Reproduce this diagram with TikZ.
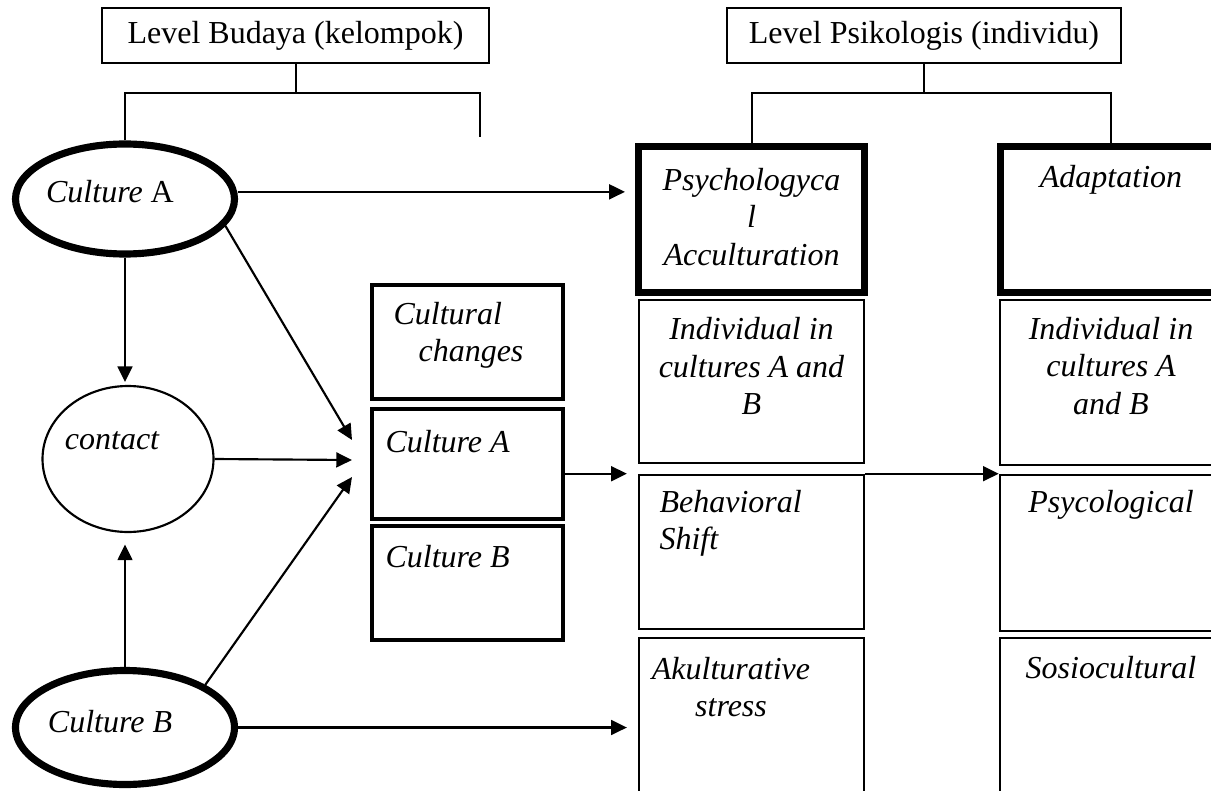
\documentclass[tikz,border=0pt]{standalone}
\usepackage{fontspec}
\setmainfont{Liberation Serif}
\usetikzlibrary{arrows.meta,shapes.geometric}

\tikzset{
  ln/.style={line width=0.7pt},
  arr/.style={line width=0.75pt, -{Triangle[length=5.5pt,width=5.2pt]}},
  boxsize/.style 2 args={minimum width=#1*0.35pt, minimum height=#2*0.35pt, inner sep=0pt},
  plainbox/.style={draw, line width=0.9pt},
  midbox/.style={draw, line width=1.4pt},
  heavybox/.style={draw, line width=2.5pt},
  heavyoval/.style={draw, ellipse, line width=2.5pt},
  thinoval/.style={draw, ellipse, line width=0.75pt},
  lbl/.style={font=\fontsize{11.2}{13}\selectfont\itshape, align=center, inner sep=0pt},
  toplbl/.style={draw, line width=0.7pt, font=\fontsize{11.2}{13}\selectfont}
}

\begin{document}
\begin{tikzpicture}[x=0.35pt, y=-0.35pt]
	%%%%% START %%%%%
	\useasboundingbox (0,0) rectangle (1211,790);
	\clip (0,0) rectangle (1211,790);
	
	\node[toplbl, boxsize={387}{55}] (lvlbud) at (295.5,35.5) {Level Budaya (kelompok)};
	\node[toplbl, boxsize={394}{55}] (lvlpsi) at (924,35.5) {Level Psikologis (individu)};
	
	\node[heavyoval, boxsize={219}{110}] (cultA) at (125,199) {};
	\node[thinoval, boxsize={171}{146}] (contact) at (128,459) {};
	\node[heavyoval, boxsize={219}{114}] (cultB) at (125,727.5) {};
	
	\node[midbox, boxsize={191}{114}] (chg) at (467.5,342) {};
	\node[midbox, boxsize={191}{110}] (boxA) at (467.5,464) {};
	\node[midbox, boxsize={191}{114}] (boxB) at (467.5,583) {};
	
	\node[heavybox, boxsize={226}{146}] (psyacc) at (751.5,219.5) {};
	\node[heavybox, boxsize={221}{146}] (adapt) at (1111,219.5) {};
	\node[plainbox, boxsize={225}{163}] (indA) at (751.5,381.5) {};
	\node[plainbox, boxsize={225}{154}] (behav) at (751.5,552) {};
	\node[plainbox, boxsize={225}{162}] (akul) at (751.5,719) {};
	\node[plainbox, boxsize={222}{165}] (indB) at (1111,382.5) {};
	\node[plainbox, boxsize={222}{156}] (psyc) at (1111,553) {};
	\node[plainbox, boxsize={222}{162}] (sosio) at (1111,719) {};
	
	% texts
	\node[lbl] (tcultA) at (110,192) {Culture \textup{A}};
	\node[lbl] (tcontact) at (112,441) {contact};
	\node[lbl] (tcultB) at (110,722) {Culture B};
	\node[lbl, align=left, anchor=west] (tchg) at (393,335) {Cultural\\\hspace*{8.75pt}changes};
	\node[lbl, anchor=west] (tboxA) at (385,442) {Culture A};
	\node[lbl, anchor=west] (tboxB) at (385,557) {Culture B};
	\node[lbl] (tpsyacc) at (751.5,217) {Psychologyca\\l\\Acculturation};
	\node[lbl] (tadapt) at (1111,180) {Adaptation};
	\node[lbl] (tindA) at (751.5,366) {Individual in\\cultures A and\\B};
	\node[lbl] (tindB) at (1111,366) {Individual in\\cultures A\\and B};
	\node[lbl, align=left, anchor=west] (tbehav) at (659,523) {Behavioral\\Shift};
	\node[lbl] (tpsyc) at (1111,505) {Psycological};
	\node[lbl] (takul) at (731,687) {Akulturative\\stress};
	\node[lbl] (tsosio) at (1111,668) {Sosiocultural};
	
	% brackets under the headings
	\coordinate (budbar) at (480,93);
	\coordinate (budend) at (480,137);
	\coordinate (psibar) at (0,93);
	\draw[ln] (lvlbud.south) -- (lvlbud.south |- budbar);
	\draw[ln] (cultA.north) -- (cultA.north |- budbar) -- (budbar) -- (budend);
	\draw[ln] (lvlpsi.south) -- (lvlpsi.south |- psibar);
	\draw[ln] (psyacc.north) -- (psyacc.north |- psibar) -- (adapt.north |- psibar) -- (adapt.north);
	
	% arrows
	\coordinate (aout) at ([yshift=2.5pt]cultA.east);
	\coordinate (tipA) at (352,440);
	\coordinate (tipC) at (352,460);
	\coordinate (tipB) at (352,477);
	\draw[arr, shorten >=3.5pt] (aout) -- (aout -| psyacc.west);
	\draw[arr, shorten >=1pt] (cultA.south) -- (cultA.south |- contact.north);
	\draw[arr, shorten >=4pt] (cultB.north) -- (cultB.north |- contact.south);
	\draw[arr] (cultA.-15) -- (tipA);
	\draw[arr] (contact.east) -- (tipC);
	\draw[arr] (cultB.28) -- (tipB);
	\draw[arr, shorten >=3.8pt] (cultB.east) -- (cultB.east -| akul.west);
	\draw[arr, shorten >=3.8pt] (boxA.east |- behav.north) -- (behav.north west);
	\draw[arr] (behav.north east) -- (psyc.north west);
	
	%%%%% END %%%%%
\end{tikzpicture}
\end{document}
